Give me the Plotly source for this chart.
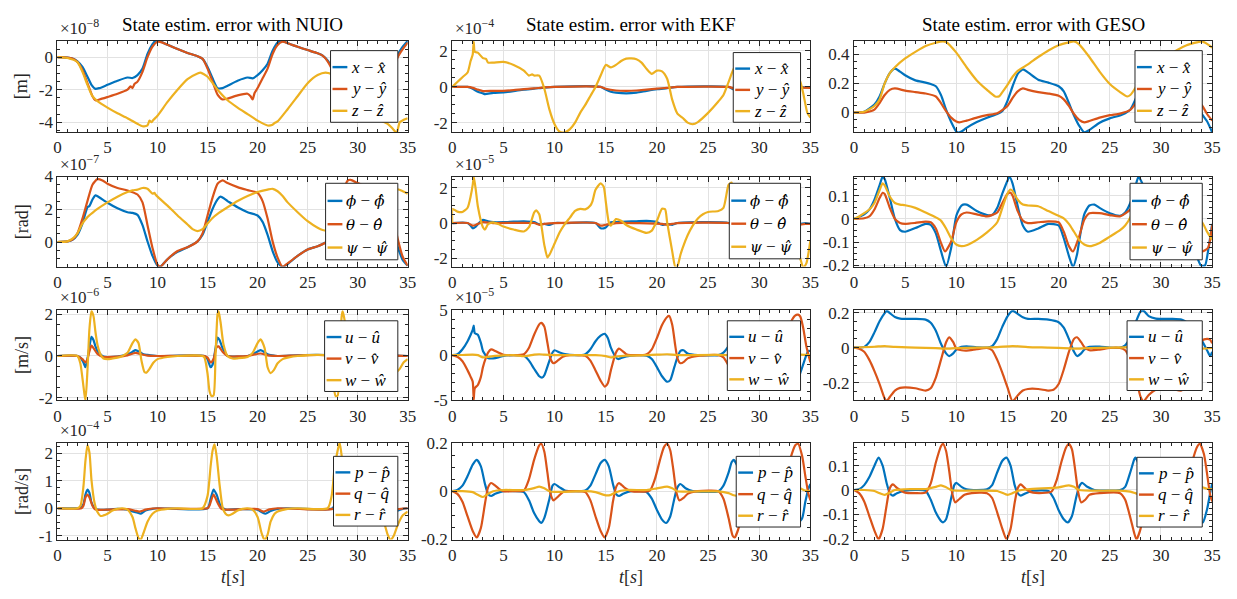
import plotly.graph_objects as go

# ---------------------------------------------------------------------------
# DATA  (t [s], value) pairs, values in the units shown on each panel's axis
# (NUIO / EKF panels carry a x10^n multiplier shown above the axis)
# ---------------------------------------------------------------------------
# ---- position error ----
nuio_x = [(0,0),(1,-0.02),(1.5,-0.08),(2,-0.25),(2.5,-0.6),(3,-1.2),(3.4,-1.7),(3.8,-1.95),(4.2,-1.9),(5,-1.7),(6,-1.45),(7,-1.25),(7.5,-1.28),(8,-1.1),(8.5,-0.7),(9,0.2),(9.5,0.8),(9.8,1.02),(10.2,1.0),(11,0.76),(12,0.5),(13,0.26),(14,0.06),(14.5,-0.1),(15,-0.6),(15.5,-1.3),(16,-1.9),(16.5,-1.9),(17,-1.76),(18,-1.45),(19,-1.25),(19.5,-1.3),(20,-1.1),(20.5,-0.8),(21,-0.4),(21.5,0.4),(22,0.9),(22.3,1.02),(22.7,0.95),(23,0.86),(24,0.64),(25,0.44),(26,0.24),(26.5,0.1),(27,-0.2),(27.5,-0.7),(28,-1.3),(28.5,-1.85),(29,-1.9),(30,-1.65),(31,-1.4),(32,-1.25),(32.5,-1.2),(33,-1.0),(33.5,-0.5),(34,0.15),(34.5,0.65),(35,1.0)]
nuio_y = [(0,0),(1,-0.02),(1.5,-0.08),(2,-0.3),(2.5,-0.8),(3,-1.6),(3.5,-2.4),(3.8,-2.65),(4.2,-2.6),(5,-2.45),(6,-2.25),(7,-2.0),(7.3,-1.8),(7.5,-1.9),(7.7,-1.65),(8,-1.5),(8.5,-0.9),(9,0.0),(9.5,0.65),(10,0.95),(10.5,0.9),(11,0.76),(12,0.5),(13,0.26),(14,0.06),(14.5,-0.1),(15,-0.7),(15.5,-1.5),(16,-2.3),(16.5,-2.6),(17,-2.55),(18,-2.35),(19,-2.25),(19.3,-2.4),(19.5,-2.6),(19.7,-2.2),(20,-1.9),(20.5,-1.3),(21,-0.7),(21.5,0.2),(22,0.75),(22.5,0.95),(23,0.86),(24,0.64),(25,0.44),(26,0.24),(26.5,0.1),(27,-0.25),(28,-1.5),(28.5,-2.3),(29,-2.6),(30,-2.45),(31,-2.3),(32,-2.2),(33,-1.6),(33.5,-0.9),(34,0.0),(34.5,0.5),(35,0.9)]
nuio_z = [(0,0),(1,-0.05),(2,-0.3),(2.5,-0.9),(3,-1.7),(3.5,-2.4),(4,-2.7),(5,-3.1),(6,-3.45),(7,-3.75),(8,-4.1),(8.5,-4.25),(9,-4.2),(9.2,-3.9),(9.4,-4.0),(9.6,-3.85),(10,-3.6),(11,-2.75),(12,-2.0),(13,-1.35),(14,-1.0),(14.3,-0.95),(15,-1.2),(16,-2.0),(17,-2.65),(18,-3.1),(19,-3.5),(20,-3.9),(21,-4.2),(21.5,-4.15),(21.7,-4.05),(22,-3.95),(23,-3.2),(24,-2.4),(25,-1.6),(26,-1.1),(26.8,-0.95),(27.5,-1.1),(28.5,-2.0),(29.5,-2.7),(30.5,-3.2),(31.5,-3.6),(32.5,-3.95),(33,-4.1),(33.5,-4.4),(33.9,-4.65),(34.2,-4.0),(34.6,-3.85),(35,-3.75)]

ekf_x = [(0,0),(1.5,0),(2,-0.1),(2.5,-0.27),(3,-0.36),(3.2,-0.4),(4,-0.33),(5,-0.3),(6,-0.23),(7,-0.15),(8,-0.1),(9,-0.04),(10,0),(14.5,0),(15,-0.15),(15.5,-0.27),(16,-0.32),(17,-0.36),(18,-0.32),(19,-0.22),(20,-0.13),(21,-0.07),(22,0),(27,0),(27.5,-0.15),(28,-0.27),(29,-0.34),(30,-0.33),(31,-0.25),(32,-0.15),(33,-0.08),(34,-0.03),(35,-0.02)]
ekf_y = [(0,0),(1.5,0),(2,-0.05),(2.5,-0.15),(3,-0.23),(4,-0.22),(5,-0.22),(6,-0.18),(7,-0.12),(8,-0.08),(9,-0.03),(10,0),(14.5,0),(15,-0.1),(16,-0.2),(17,-0.22),(18,-0.2),(19,-0.15),(20,-0.1),(21,-0.05),(22,0),(27,0),(27.5,-0.08),(28.5,-0.2),(30,-0.2),(31,-0.15),(32,-0.1),(33,-0.06),(34,-0.04),(35,-0.05)]
ekf_z = [(0,0),(0.5,0.27),(1,0.54),(1.5,0.8),(1.8,1.45),(2,1.8),(2.1,2.5),(2.2,1.95),(2.5,1.9),(3,1.6),(3.3,1.55),(3.5,1.35),(4,1.35),(5,1.39),(6,1.22),(7,0.9),(7.5,0.63),(7.8,0.7),(8,0.63),(8.5,0.63),(9,-0.1),(9.5,-1.26),(10,-2.07),(10.5,-2.49),(11,-2.52),(11.5,-2.34),(12,-1.98),(12.5,-1.44),(13,-1.0),(13.5,-0.5),(14,0),(14.5,0.63),(15,1.22),(15.5,1.08),(16,1.22),(16.5,1.44),(17,1.57),(17.5,1.58),(18,1.53),(18.5,1.35),(19,0.99),(19.5,0.72),(20,0.9),(20.5,0.86),(21,0.45),(21.5,-0.72),(22,-1.48),(22.5,-1.71),(23,-1.98),(23.5,-2.07),(24,-1.95),(25,-1.44),(26,-0.81),(26.5,-0.45),(27,0.27),(27.5,1.0),(28,1.3),(29,1.5),(30,1.5),(31,1.3),(32,1.0),(33,0.8),(33.5,0.7),(34,0.3),(34.3,-0.36),(34.7,-1.44),(35,-1.7)]

geso_x = [(0,0),(1,0.005),(2,0.055),(2.5,0.11),(3,0.2),(3.5,0.27),(4,0.3),(4.5,0.28),(5,0.255),(6,0.22),(7,0.205),(7.5,0.195),(8,0.18),(8.5,0.12),(9,0.02),(9.5,-0.065),(10,-0.13),(10.2,-0.138),(10.5,-0.13),(11,-0.105),(12,-0.065),(13,-0.035),(14,-0.01),(14.5,0.01),(15,0.08),(15.5,0.18),(16,0.265),(16.5,0.295),(17,0.275),(18,0.225),(19,0.205),(20,0.18),(20.5,0.145),(21,0.065),(21.5,-0.02),(22,-0.09),(22.5,-0.135),(23,-0.12),(24,-0.07),(25,-0.04),(26,-0.02),(26.5,-0.005),(27,0.02),(27.5,0.09),(28,0.18),(28.5,0.26),(29,0.295),(29.5,0.28),(30.5,0.23),(31.5,0.205),(32.5,0.18),(33,0.15),(33.5,0.07),(34,-0.01),(34.5,-0.06),(35,-0.135)]
geso_y = [(0,0),(1,0),(2,0.02),(2.5,0.065),(3,0.12),(3.5,0.155),(4,0.165),(5,0.15),(6,0.14),(7,0.13),(8,0.11),(8.5,0.065),(9,0.01),(9.5,-0.035),(10,-0.062),(10.3,-0.067),(11,-0.055),(12,-0.035),(13,-0.018),(14,-0.005),(15,0.045),(15.5,0.1),(16,0.145),(16.5,0.165),(17,0.155),(18,0.14),(19,0.13),(20,0.115),(20.5,0.09),(21,0.045),(21.5,-0.01),(22,-0.05),(22.5,-0.067),(23,-0.058),(24,-0.035),(25,-0.018),(26,-0.007),(27,0.018),(27.5,0.06),(28,0.11),(28.5,0.15),(29,0.165),(30,0.15),(31,0.14),(32,0.13),(33,0.11),(33.5,0.08),(34,0.05),(34.5,-0.01),(35,-0.055)]
geso_z = [(0,0),(1,0.005),(2,0.045),(2.5,0.09),(3,0.2),(3.5,0.27),(4,0.31),(5,0.37),(6,0.415),(7,0.455),(8,0.478),(8.7,0.487),(9,0.483),(10,0.41),(11,0.31),(12,0.22),(13,0.155),(13.8,0.11),(14.2,0.112),(14.5,0.14),(15,0.19),(15.5,0.245),(16,0.285),(17,0.33),(18,0.38),(19,0.425),(20,0.46),(21,0.48),(21.5,0.487),(22,0.467),(23,0.38),(24,0.28),(25,0.195),(26,0.14),(26.7,0.11),(27,0.12),(27.5,0.17),(28,0.24),(28.5,0.285),(29.5,0.33),(30.5,0.38),(31.5,0.425),(32.5,0.46),(33.5,0.48),(34,0.487),(34.5,0.47),(35,0.445)]

# ---- attitude error ----
nuio_phi = [(0,0),(1,0.04),(1.5,0.14),(2,0.44),(2.5,1.13),(3,2.12),(3.2,2.2),(3.5,2.6),(3.8,2.85),(4,2.8),(5,2.4),(6,2.06),(7,1.82),(7.5,1.78),(8,1.66),(8.5,1.03),(9,0.04),(9.5,-0.85),(10,-1.45),(10.2,-1.52),(10.5,-1.39),(11,-1.05),(12,-0.6),(13,-0.32),(14,0.04),(14.5,0.44),(15,1.23),(15.5,2.02),(16,2.6),(16.3,2.77),(17,2.5),(18,2.12),(19,1.82),(20,1.62),(20.5,1.23),(21,0.44),(21.5,-0.55),(22,-1.25),(22.5,-1.52),(23,-1.35),(24,-0.85),(25,-0.46),(26,-0.26),(26.5,-0.12),(27,0.04),(27.5,0.5),(28,1.3),(28.5,2.1),(29,2.7),(29.3,2.8),(30,2.5),(31,2.12),(32,1.82),(33,1.5),(33.5,0.7),(34,-0.3),(34.5,-1.1),(35,-1.45)]
nuio_theta = [(0,0),(1,0.04),(1.5,0.14),(2,0.53),(2.5,1.43),(3,2.5),(3.5,3.5),(4,3.84),(4.5,3.76),(5,3.56),(6,3.3),(7,3.15),(8,2.9),(8.5,2.42),(9,1.03),(9.5,-0.36),(10,-1.39),(10.3,-1.52),(10.5,-1.39),(11,-1.05),(12,-0.55),(13,-0.32),(14,0.04),(14.5,0.53),(15,1.62),(15.5,2.71),(16,3.56),(16.5,3.76),(17,3.6),(18,3.35),(19,3.17),(20,3.0),(20.5,2.5),(21,1.43),(21.5,0.04),(22,-0.95),(22.5,-1.52),(23,-1.3),(24,-0.85),(25,-0.46),(26,-0.26),(27,0.04),(27.5,0.6),(28,1.8),(28.5,3.0),(29,3.75),(29.3,3.8),(30,3.6),(31,3.35),(32,3.15),(33,2.6),(33.5,1.6),(34,0.2),(34.5,-0.9),(35,-1.45)]
nuio_psi = [(0,0),(1,0.04),(1.5,0.2),(2,0.53),(2.5,1.13),(3,1.52),(3.5,1.78),(4,2.02),(5,2.42),(6,2.77),(7,3.05),(7.5,3.15),(8,3.2),(8.5,3.3),(9,3.25),(9.5,2.95),(9.7,3.0),(9.8,2.9),(10,2.77),(11,2.22),(12,1.62),(13,1.07),(13.5,0.79),(14,0.67),(14.5,0.79),(15,1.13),(15.5,1.47),(16,1.72),(17,2.12),(18,2.5),(19,2.81),(20,3.05),(21,3.2),(21.5,3.25),(22,3.1),(22.5,2.81),(23,2.42),(24,1.82),(25,1.27),(26,0.87),(26.5,0.73),(27,0.7),(27.5,0.85),(28,1.2),(28.5,1.5),(29.5,2.0),(30.5,2.45),(31.5,2.8),(32.5,3.05),(33.5,3.2),(34,3.22),(34.5,3.1),(35,2.95)]

ekf_phi = [(0,0),(1.5,0),(1.8,-0.15),(2,-0.3),(2.3,-0.2),(2.7,0.05),(3,0.18),(3.5,0.1),(4,0.05),(5,0.05),(6,0.08),(7,0.1),(8,0.05),(8.5,-0.07),(9,-0.05),(9.5,-0.1),(10,0),(11,0),(14,0),(14.5,-0.3),(15,-0.25),(15.5,0.05),(16,0.05),(17,0.08),(18,0.1),(19,0.12),(20,0.05),(20.5,-0.1),(21,-0.05),(21.5,-0.1),(22,0),(27,0),(27.5,-0.2),(28,-0.1),(29,0.05),(30,0.08),(31,0.1),(32,0.05),(33,-0.1),(34,-0.05),(34.5,0),(35,-0.05)]
ekf_theta = [(0,0),(1.5,0),(2,-0.15),(2.5,-0.05),(3,0.05),(4,0),(8,0),(8.5,-0.1),(9,-0.05),(10,0),(14,0),(14.5,-0.15),(15,-0.1),(16,0),(20.5,-0.05),(21,-0.1),(21.5,-0.05),(22,0),(27,0),(27.5,-0.1),(28,-0.05),(29,0),(33,-0.05),(34,-0.1),(34.5,-0.05),(35,-0.05)]
ekf_psi = [(0,0),(0.05,0.8),(0.5,0.65),(1,0.63),(1.5,0.87),(1.8,1.52),(2,2.17),(2.1,2.65),(2.3,1.89),(2.5,0.96),(3,-0.24),(3.2,-0.37),(3.5,-0.06),(4,0.04),(4.5,-0.06),(5,-0.2),(6,-0.37),(7,-0.48),(7.5,-0.24),(8,0.59),(8.2,0.72),(8.5,0.5),(9,-1.26),(9.3,-1.96),(9.5,-1.81),(10,-1.17),(10.5,-0.52),(11,-0.06),(11.5,0.31),(12,0.69),(12.5,0.81),(13,0.78),(13.5,1.0),(13.7,1.24),(14,1.89),(14.5,2.26),(14.8,2.07),(15,1.24),(15.3,0.04),(15.5,-0.15),(16,0.22),(16.5,0.13),(17,-0.11),(18,-0.37),(19,-0.56),(19.5,-0.43),(20,0.13),(20.5,0.81),(20.8,0.78),(21,0.04),(21.5,-1.63),(21.8,-2.5),(22,-2.46),(22.3,-1.81),(22.5,-1.44),(23,-0.7),(23.5,-0.15),(24,0.26),(24.5,0.5),(25,0.63),(26,0.69),(26.5,0.87),(27,2.17),(27.3,2.3),(27.6,1.5),(28,0.2),(29,-0.3),(30,-0.4),(31,-0.5),(32,0.2),(32.5,0.7),(33,0.5),(33.5,-1.0),(34,-2.0),(34.3,-2.55),(34.6,-2.3),(35,-0.98)]

geso_phi = [(0,0),(1,0.02),(1.5,0.04),(2,0.083),(2.5,0.145),(2.8,0.182),(3,0.172),(3.5,0.09),(4,0),(4.5,-0.048),(5,-0.055),(6,-0.039),(7,-0.021),(7.5,-0.025),(8,-0.062),(8.5,-0.138),(9,-0.206),(9.5,-0.124),(10,0.014),(10.5,0.058),(11,0.062),(12,0.034),(13,0.017),(13.5,0.017),(14,0.048),(14.5,0.11),(15,0.165),(15.2,0.182),(15.5,0.152),(16,0.055),(16.5,-0.028),(17,-0.055),(18,-0.041),(19,-0.021),(20,-0.028),(20.5,-0.083),(21,-0.159),(21.4,-0.206),(21.8,-0.152),(22,-0.097),(22.5,0.02),(23,0.058),(23.5,0.062),(24,0.048),(25,0.025),(26,0.014),(26.5,0.028),(27,0.069),(27.5,0.14),(27.8,0.182),(28.2,0.15),(28.6,0.06),(29,-0.02),(29.5,-0.055),(30.5,-0.04),(31.5,-0.021),(32.5,-0.03),(33,-0.08),(33.5,-0.16),(33.9,-0.2),(34.3,-0.2),(34.6,-0.138),(35,-0.021)]
geso_theta = [(0,0),(1,0.003),(1.5,0.011),(2,0.041),(2.5,0.09),(2.8,0.113),(3,0.108),(3.5,0.048),(4,0),(4.5,-0.017),(5,-0.021),(6,-0.017),(7,-0.011),(7.5,-0.014),(8,-0.041),(8.5,-0.103),(8.9,-0.14),(9.5,-0.097),(10,-0.014),(10.5,0.02),(11,0.028),(12,0.02),(13,0.011),(14,0.028),(14.5,0.069),(15,0.108),(15.3,0.113),(15.5,0.1),(16,0.034),(16.5,-0.007),(17,-0.018),(18,-0.014),(19,-0.01),(20,-0.014),(20.5,-0.055),(21,-0.117),(21.4,-0.14),(22,-0.076),(22.5,-0.003),(23,0.025),(24,0.025),(25,0.017),(26,0.011),(27,0.041),(27.5,0.09),(27.8,0.113),(28.2,0.09),(28.6,0.03),(29,-0.01),(30,-0.018),(31,-0.012),(32,-0.012),(33,-0.05),(33.5,-0.11),(34,-0.14),(34.6,-0.124),(35,-0.028)]
geso_psi = [(0,0),(0.5,0.011),(1,0.025),(1.5,0.041),(2,0.069),(2.5,0.124),(2.8,0.154),(3,0.145),(3.5,0.097),(4,0.069),(4.5,0.062),(5,0.059),(6,0.048),(7,0.028),(8,0.007),(8.5,-0.007),(9,-0.041),(9.5,-0.083),(10,-0.11),(10.5,-0.117),(11,-0.113),(12,-0.09),(13,-0.058),(14,-0.014),(14.5,0.048),(15,0.11),(15.3,0.127),(15.5,0.121),(16,0.083),(16.5,0.062),(17,0.058),(18,0.055),(19,0.034),(20,0.014),(20.5,0.003),(21,-0.021),(21.5,-0.055),(22,-0.09),(22.5,-0.11),(23,-0.117),(24,-0.103),(25,-0.076),(26,-0.048),(26.5,-0.028),(27,0.007),(27.5,0.07),(28,0.12),(28.5,0.09),(29,0.065),(30,0.056),(31,0.04),(32,0.02),(33,0.0),(34,-0.014),(34.5,-0.055),(35,-0.09)]

# ---- linear velocity error ----
nuio_u = [(0,0),(2,0),(2.3,-0.08),(2.6,-0.31),(2.8,-0.54),(3.0,-0.15),(3.2,0.46),(3.4,0.92),(3.6,0.77),(3.8,0.46),(4.0,0.23),(4.3,0.08),(4.6,-0.03),(5,-0.05),(6,-0.03),(7,0.08),(7.5,0.2),(7.8,0.28),(8.2,0.2),(8.6,0.08),(9,0.05),(10,0),(14.7,0),(15,-0.15),(15.3,-0.54),(15.5,-0.42),(15.8,0.38),(16.0,0.88),(16.2,0.77),(16.5,0.38),(17,0),(17.5,-0.03),(19,0),(19.5,0.08),(20.3,0.28),(21,0.08),(21.5,0.03),(22,0),(27.3,0),(27.6,-0.5),(28.0,0.3),(28.5,0.9),(29,0.4),(29.5,0),(32,0.1),(32.8,0.28),(33.5,0.08),(34,0.02),(35,0)]
nuio_v = [(0,0),(2,0),(2.5,-0.15),(2.8,-0.31),(3.0,-0.15),(3.2,0.23),(3.4,0.5),(3.6,0.38),(4.0,0.1),(4.6,-0.05),(5,-0.05),(6,-0.03),(7,0.03),(7.8,0.15),(8.4,0.08),(9,0.02),(10,0),(14.7,0),(15,-0.08),(15.3,-0.31),(15.6,-0.15),(15.9,0.42),(16.1,0.46),(16.5,0.2),(17,0),(19,0),(20.3,0.12),(21,0.03),(22,0),(27.3,0),(27.7,-0.3),(28.3,0.45),(28.8,0.2),(29.5,0),(32.8,0.12),(33.5,0.03),(35,0)]
nuio_w = [(0,0),(2,0),(2.3,-0.38),(2.6,-1.46),(2.8,-2.15),(3.0,-0.69),(3.2,1.31),(3.4,2.15),(3.6,1.92),(3.8,1.15),(4.0,0.54),(4.3,0.08),(4.6,-0.12),(5,-0.15),(5.5,-0.12),(6,-0.08),(6.5,0),(7,0.15),(7.5,0.62),(7.8,0.8),(8.1,0.62),(8.4,-0.23),(8.7,-0.77),(8.9,-0.8),(9.2,-0.62),(9.6,-0.31),(10,-0.15),(11,-0.05),(12,0),(14.5,0),(14.7,-0.08),(15,-0.85),(15.2,-1.69),(15.4,-1.92),(15.6,-1.89),(15.8,0.08),(16.0,2.0),(16.1,2.15),(16.3,1.62),(16.6,0.54),(17,0),(17.5,-0.12),(18,-0.11),(19,-0.05),(19.5,0.15),(20,0.62),(20.3,0.8),(20.7,0.38),(21,-0.54),(21.3,-0.82),(21.6,-0.69),(22,-0.35),(22.5,-0.15),(23,-0.08),(24,0),(27,0),(27.3,-0.4),(27.6,-1.5),(27.8,-1.92),(28.0,-1.9),(28.2,0.1),(28.4,1.9),(28.5,2.15),(28.7,1.7),(29,0.6),(29.5,0),(30,-0.12),(31,-0.08),(32,0.1),(32.5,0.6),(32.8,0.8),(33.2,0.4),(33.5,-0.5),(33.8,-0.8),(34.2,-0.62),(34.6,-0.3),(35,-0.15)]

ekf_u = [(0,0),(0.5,0.1),(1,0.65),(1.5,1.55),(1.8,2.27),(2,2.8),(2.1,3.27),(2.2,2.45),(2.5,2.27),(2.8,1.37),(3,0.47),(3.5,-0.32),(4,-0.36),(4.5,-0.25),(5,-0.07),(6,0),(7,-0.07),(7.5,-0.61),(8,-1.51),(8.5,-2.34),(8.8,-2.48),(9,-2.23),(9.5,-0.61),(9.8,0.29),(10,0.54),(10.5,0.29),(11,0.11),(12,0),(13,0.11),(13.5,0.65),(14,1.55),(14.5,2.16),(14.9,2.37),(15.2,1.91),(15.5,0.83),(16,-0.25),(16.2,-0.43),(16.5,-0.32),(17,-0.14),(18,0),(19,-0.07),(19.5,-0.43),(20,-1.33),(20.5,-2.34),(21,-2.95),(21.3,-2.77),(21.7,-1.33),(22,-0.25),(22.3,0.47),(22.6,0.54),(23,0.18),(24,0),(26,0),(26.5,0.29),(27,1.0),(27.5,2.0),(28,2.4),(28.5,1.5),(29,0),(29.5,-0.4),(30,-0.2),(31,0),(32,-0.5),(33,-2.3),(33.5,-3.0),(34,-2.0),(34.3,-1.0),(34.6,0.0),(34.8,0.47),(35,0.45)]
ekf_v = [(0,0),(0.5,-0.18),(1,-0.68),(1.5,-1.69),(1.8,-2.41),(2,-2.95),(2.1,-4.93),(2.2,-3.67),(2.5,-3.31),(2.8,-2.41),(3,-1.33),(3.3,-0.25),(3.5,0.29),(3.8,0.65),(4.2,0.47),(4.5,0.29),(5,0.04),(6,0),(7,0.11),(7.5,0.83),(8,2.27),(8.5,3.42),(8.7,3.6),(9,3.17),(9.3,1.37),(9.6,-0.43),(9.9,-0.9),(10.3,-0.61),(10.8,-0.18),(11.5,0),(13,-0.07),(13.5,-0.61),(14,-1.69),(14.5,-2.84),(14.9,-3.49),(15.2,-3.13),(15.5,-1.69),(16,0.29),(16.3,0.72),(16.7,0.4),(17,0.11),(18,0),(19,0.11),(19.5,0.65),(20,1.91),(20.5,3.35),(21,4.24),(21.2,4.35),(21.5,3.35),(21.8,1.0),(22,-0.32),(22.3,-0.9),(22.7,-0.68),(23,-0.36),(24,-0.07),(26,0),(26.5,-0.25),(27,-1.15),(27.5,-2.0),(27.8,-3.0),(28.1,-3.4),(28.4,-2.5),(28.8,-0.5),(29.2,0.6),(29.6,0.5),(30.5,0.05),(31.5,0.1),(32,0.7),(32.5,2.0),(33,3.5),(33.5,4.4),(33.8,4.5),(34,4.3),(34.3,3.0),(34.6,1.0),(35,-0.8)]
ekf_w = [(0,0),(1,0.02),(2,0.05),(2.5,0),(3,-0.25),(3.5,-0.18),(4,-0.1),(5,-0.03),(6,0),(7,-0.12),(7.5,-0.05),(8,0.05),(8.5,0.1),(9,0.05),(10,0),(14,0),(15,-0.1),(15.5,-0.25),(16,-0.15),(17,-0.05),(19,0),(20,0.05),(21,0.1),(22,0),(27,0),(28,-0.25),(29,-0.1),(33,0.1),(34,0.05),(35,0)]

geso_u = [(0,0),(1,0.004),(1.5,0.031),(2,0.087),(2.5,0.151),(3,0.197),(3.2,0.21),(3.5,0.197),(4,0.175),(4.5,0.166),(5,0.164),(6,0.164),(7,0.16),(7.5,0.142),(8,0.096),(8.5,0.022),(9,-0.033),(9.3,-0.048),(9.7,-0.033),(10,-0.011),(10.5,0.004),(11,0.007),(12,0.002),(13,0),(13.5,0.009),(14,0.05),(14.5,0.12),(15,0.179),(15.5,0.21),(16,0.193),(16.5,0.173),(17,0.164),(18,0.164),(19,0.16),(20,0.145),(20.5,0.114),(21,0.05),(21.5,-0.024),(21.8,-0.048),(22.2,-0.033),(22.5,-0.011),(23,0.004),(24,0.006),(25,0),(26,0),(26.5,0.013),(27,0.059),(27.5,0.14),(28,0.206),(28.3,0.21),(28.8,0.18),(29.5,0.166),(31,0.164),(32,0.16),(32.5,0.145),(33,0.12),(33.5,0.09),(34,0.04),(34.5,-0.015),(34.8,-0.048),(35,-0.024)]
geso_v = [(0,0),(0.5,-0.006),(1,-0.024),(1.5,-0.07),(2,-0.134),(2.5,-0.208),(3,-0.291),(3.2,-0.306),(3.5,-0.282),(4,-0.245),(4.5,-0.23),(5,-0.227),(6,-0.232),(7,-0.245),(7.5,-0.232),(8,-0.171),(8.5,-0.07),(9,0.031),(9.3,0.059),(9.7,0.031),(10,-0.006),(10.5,-0.015),(11,-0.017),(12,-0.009),(13,-0.002),(13.5,-0.015),(14,-0.07),(14.5,-0.144),(15,-0.227),(15.5,-0.306),(16,-0.273),(16.5,-0.245),(17,-0.236),(18,-0.236),(19,-0.245),(19.5,-0.241),(20,-0.208),(20.5,-0.125),(21,-0.024),(21.5,0.05),(21.8,0.059),(22.2,0.031),(22.5,0.004),(23,-0.015),(24,-0.011),(25,-0.002),(26,-0.002),(26.5,-0.015),(27,-0.07),(27.5,-0.16),(28,-0.28),(28.3,-0.306),(28.8,-0.27),(29.5,-0.24),(31,-0.236),(32,-0.245),(32.5,-0.22),(33,-0.14),(33.5,-0.03),(34,0.04),(34.5,0.05),(34.8,0.045),(35,0.025)]
geso_w = [(0,0),(2,0.005),(3,0.009),(4,0.004),(6,0),(8,-0.003),(9,-0.006),(10,-0.003),(12,0),(14,0.003),(15.5,0.009),(17,0.003),(19,0),(21,-0.004),(21.5,-0.006),(23,-0.002),(25,0),(27,0.003),(28,0.009),(29.5,0.003),(32,0),(33.5,-0.004),(34,-0.006),(35,-0.002)]

# ---- angular velocity error ----
nuio_p = [(0,0),(2.3,0.02),(2.6,0.15),(2.8,0.5),(3.0,0.68),(3.2,0.56),(3.4,0.21),(3.7,0),(4,-0.05),(5,-0.05),(6,-0.02),(7,-0.05),(7.5,-0.12),(8,-0.16),(8.3,-0.2),(8.8,-0.08),(9.5,-0.02),(10,0),(15,0),(15.3,0.33),(15.6,0.68),(15.9,0.5),(16.3,0.09),(16.8,-0.05),(18,-0.03),(20,-0.05),(20.4,-0.14),(20.8,-0.2),(21.3,-0.1),(22,-0.02),(23,0),(27.5,0),(27.9,0.35),(28.2,0.68),(28.5,0.5),(28.9,0.1),(29.4,-0.05),(32.5,-0.05),(33,-0.14),(33.4,-0.2),(33.9,-0.1),(34.5,-0.02),(35,0)]
nuio_q = [(0,0),(2.4,0),(2.6,0.09),(2.8,0.39),(3.0,0.5),(3.2,0.39),(3.5,0.09),(3.8,-0.05),(5,-0.05),(7,-0.03),(7.7,-0.08),(8.2,-0.12),(8.8,-0.05),(9.5,-0.01),(10,0),(15,0),(15.2,0.1),(15.6,0.5),(16.0,0.2),(16.4,-0.03),(17,-0.05),(20,-0.03),(20.6,-0.12),(21.2,-0.04),(22,0),(27.7,0),(28.2,0.5),(28.6,0.1),(29,-0.04),(33.3,-0.12),(34,-0.03),(35,0)]
nuio_r = [(0,0),(2,0),(2.3,0.09),(2.6,0.8),(2.8,1.73),(3.0,2.3),(3.2,2.02),(3.4,1.03),(3.7,0.21),(4,-0.14),(4.3,-0.28),(4.6,-0.26),(5,-0.2),(5.5,-0.08),(6,-0.02),(6.5,0),(7,-0.05),(7.5,-0.32),(7.8,-0.73),(8.1,-1.08),(8.3,-1.16),(8.6,-0.9),(9,-0.49),(9.5,-0.2),(10,-0.08),(11,-0.02),(12,0),(14.5,0),(15,0.45),(15.3,1.5),(15.5,2.09),(15.7,2.32),(15.9,1.91),(16.2,0.86),(16.5,0.04),(16.8,-0.2),(17.1,-0.26),(17.5,-0.2),(18,-0.08),(18.5,-0.02),(19,0),(19.5,-0.05),(20,-0.32),(20.4,-0.9),(20.7,-1.16),(21,-0.96),(21.3,-0.49),(21.7,-0.2),(22,-0.12),(23,-0.02),(24,0),(27,0),(27.4,0.45),(27.7,1.5),(28.0,2.1),(28.2,2.38),(28.4,1.9),(28.7,0.8),(29,0.0),(29.3,-0.22),(29.7,-0.26),(30.2,-0.15),(31,-0.02),(32,-0.05),(32.5,-0.35),(33,-0.96),(33.3,-1.16),(33.6,-1.0),(34,-0.61),(34.5,-0.26),(35,-0.12)]

ekf_p = [(0,0),(0.5,0.005),(1,0.023),(1.5,0.063),(2,0.11),(2.4,0.13),(2.8,0.103),(3.2,0.03),(3.5,-0.011),(3.8,-0.02),(4.2,-0.011),(5,0),(6,0),(7,-0.004),(7.5,-0.038),(8,-0.091),(8.5,-0.125),(8.7,-0.132),(9,-0.111),(9.5,-0.031),(9.8,0.023),(10,0.03),(10.5,0.016),(11,0.003),(12,0),(13,0.003),(13.5,0.023),(14,0.07),(14.5,0.117),(14.9,0.13),(15.3,0.103),(15.7,0.03),(16,-0.011),(16.3,-0.02),(16.7,-0.011),(17.5,0),(19,-0.004),(19.5,-0.031),(20,-0.078),(20.5,-0.118),(20.9,-0.132),(21.3,-0.105),(21.7,-0.031),(22,0.016),(22.3,0.03),(22.8,0.012),(23.5,0),(26,0),(26.5,0.023),(27,0.077),(27.3,0.12),(27.5,0.13),(27.9,0.1),(28.3,0.03),(28.6,-0.011),(28.9,-0.02),(29.3,-0.011),(30,0),(31.5,-0.004),(32,-0.031),(32.5,-0.078),(33,-0.11),(33.5,-0.125),(33.8,-0.132),(34.2,-0.111),(34.5,-0.044),(34.8,0.01),(35,0.03)]
ekf_q = [(0,0),(0.5,-0.011),(1,-0.044),(1.5,-0.105),(2,-0.165),(2.4,-0.192),(2.8,-0.152),(3.2,-0.051),(3.5,0.016),(3.8,0.034),(4.2,0.023),(4.6,0.009),(5,0),(6,0),(7,0.003),(7.5,0.05),(8,0.13),(8.5,0.19),(8.7,0.197),(9,0.164),(9.3,0.077),(9.6,-0.011),(9.9,-0.038),(10.3,-0.024),(10.8,-0.004),(11.5,0),(13,-0.004),(13.5,-0.038),(14,-0.105),(14.5,-0.165),(14.9,-0.192),(15.3,-0.152),(15.7,-0.044),(16,0.016),(16.3,0.034),(16.8,0.016),(17.5,0),(19.3,0.003),(19.8,0.05),(20.3,0.13),(20.7,0.184),(21,0.197),(21.3,0.17),(21.6,0.09),(21.9,-0.004),(22.2,-0.038),(22.6,-0.028),(23,-0.011),(24,0),(26,0),(26.5,-0.031),(27,-0.111),(27.4,-0.185),(27.6,-0.192),(28,-0.15),(28.4,-0.05),(28.8,0.02),(29.1,0.034),(29.6,0.016),(30.5,0),(32,0.003),(32.5,0.05),(33,0.13),(33.5,0.19),(33.8,0.197),(34.2,0.144),(34.5,0.063),(34.8,-0.011),(35,-0.038)]
ekf_r = [(0,0),(1,0),(2,-0.004),(2.5,-0.015),(3,-0.024),(3.5,-0.011),(4,0),(5,0.005),(7,0.005),(8,0.013),(8.5,0.019),(9,0.012),(9.5,0),(10,-0.003),(13,0),(14,-0.004),(15,-0.017),(15.5,-0.015),(16,-0.004),(17,0.005),(19,0.005),(20,0.012),(21,0.019),(21.5,0.012),(22,0),(24,-0.001),(26,-0.001),(27,-0.008),(27.5,-0.017),(28,-0.02),(28.5,-0.01),(29,0),(30,0.005),(32,0.006),(33,0.014),(33.5,0.019),(34,0.012),(34.5,0.003),(35,0)]

geso_p = [(0,0),(0.5,0.003),(1,0.02),(1.5,0.053),(2,0.1),(2.4,0.133),(2.8,0.1),(3.2,0.027),(3.5,-0.013),(3.8,-0.023),(4.2,-0.013),(5,-0.003),(6,0),(7,-0.003),(7.5,-0.04),(8,-0.093),(8.5,-0.127),(8.7,-0.133),(9,-0.12),(9.5,-0.033),(9.8,0.02),(10,0.029),(10.5,0.013),(11,0.003),(12,0),(13,0.003),(13.5,0.02),(14,0.073),(14.5,0.12),(14.9,0.133),(15.3,0.1),(15.7,0.02),(16,-0.013),(16.3,-0.023),(16.8,-0.013),(17.5,-0.003),(19,-0.004),(19.5,-0.033),(20,-0.083),(20.5,-0.12),(20.9,-0.133),(21.3,-0.107),(21.7,-0.033),(22,0.013),(22.3,0.029),(22.8,0.013),(23.5,0),(26,0),(26.5,0.013),(27,0.073),(27.4,0.127),(27.5,0.133),(27.9,0.1),(28.3,0.025),(28.6,-0.013),(28.9,-0.023),(29.4,-0.013),(30,-0.003),(31.5,-0.004),(32,-0.033),(32.5,-0.08),(33,-0.11),(33.4,-0.125),(33.8,-0.132),(34.1,-0.133),(34.5,-0.08),(34.8,-0.013),(35,0.027)]
geso_q = [(0,0),(0.5,-0.013),(1,-0.047),(1.5,-0.107),(2,-0.167),(2.4,-0.203),(2.8,-0.16),(3.2,-0.06),(3.5,0.007),(3.8,0.023),(4.2,0.009),(5,-0.011),(6,-0.013),(7,-0.011),(7.5,0.027),(8,0.113),(8.5,0.18),(8.7,0.19),(9,0.16),(9.3,0.08),(9.6,-0.013),(9.9,-0.051),(10.3,-0.037),(10.8,-0.02),(11.5,-0.013),(13,-0.013),(13.5,-0.033),(14,-0.093),(14.5,-0.16),(14.9,-0.203),(15.3,-0.16),(15.7,-0.053),(16,0.007),(16.3,0.023),(16.8,0.003),(17.5,-0.011),(19.3,-0.007),(19.8,0.04),(20.3,0.12),(20.7,0.173),(21,0.19),(21.3,0.167),(21.6,0.087),(21.9,-0.007),(22.2,-0.051),(22.6,-0.04),(23,-0.02),(24,-0.013),(26,-0.013),(26.5,-0.04),(27,-0.113),(27.4,-0.18),(27.6,-0.203),(28,-0.16),(28.4,-0.05),(28.8,0.01),(29.1,0.023),(29.6,0.003),(30.5,-0.011),(32,-0.008),(32.5,0.03),(33,0.11),(33.5,0.175),(33.8,0.19),(34.2,0.147),(34.5,0.067),(34.8,-0.02),(35,-0.047)]
geso_r = [(0,0),(1,0),(2,-0.004),(2.5,-0.013),(3,-0.02),(3.5,-0.011),(4,0),(5,0.003),(7,0.004),(8,0.013),(8.5,0.019),(9,0.011),(9.5,0),(10,-0.003),(14,-0.004),(15,-0.02),(15.5,-0.013),(16,-0.004),(17,0.003),(20,0.011),(21,0.019),(21.5,0.013),(22,0),(24,-0.003),(26,-0.003),(27,-0.007),(27.5,-0.013),(28,-0.02),(28.5,-0.011),(29,0),(30,0.003),(32,0.006),(33,0.013),(33.5,0.019),(34,0.012),(34.5,0.005),(35,0.003)]

# ---- labels / ticks ----
column_titles = ["State estim. error with NUIO", "State estim. error with EKF", "State estim. error with GESO"]
row_units = ["[m]", "[rad]", "[m/s]", "[rad/s]"]
x_label = "<i>t</i>[<i>s</i>]"
x_ticks = [0, 5, 10, 15, 20, 25, 30, 35]
GK = '<span style="font-family:DejaVu Serif;font-size:15px">'
lbl_pos = ["<i>x</i> − <i>x\u0302</i>", "<i>y</i> − <i>\u0177</i>", "<i>z</i> − <i>\u1e91</i>"]
lbl_ang = [f"<i>{GK}\u03d5</span></i> − <i>{GK}\u03d5\u0302</span></i>",
           f"<i>{GK}θ</span></i> − <i>{GK}θ\u0302</span></i>",
           f"<i>{GK}ψ</span></i> − <i>{GK}ψ\u0302</span></i>"]
lbl_lin = ["<i>u</i> − <i>\u00fb</i>", "<i>v</i> − <i>v\u0302</i>", "<i>w</i> − <i>\u0175</i>"]
lbl_rat = ["<i>p</i> − <i>p\u0302</i>", "<i>q</i> − <i>q\u0302</i>", "<i>r</i> − <i>r\u0302</i>"]

# y ranges, tick values, tick labels and multiplier exponents per panel (row-major)
y_ranges = [[-4.6, 1.0], [-2.5, 2.55], [-0.133, 0.49],
            [-1.5, 4.0], [-2.48, 2.65], [-0.205, 0.183],
            [-2.12, 2.2], [-5, 5], [-0.30, 0.214],
            [-1.14, 2.38], [-0.201, 0.201], [-0.204, 0.194]]
y_tickvals = [[-4, -2, 0], [-2, 0, 2], [0, 0.2, 0.4],
              [0, 2, 4], [-2, 0, 2], [-0.2, -0.1, 0, 0.1],
              [-2, 0, 2], [-5, 0, 5], [-0.2, 0, 0.2],
              [-1, 0, 1, 2], [-0.2, 0, 0.2], [-0.2, -0.1, 0, 0.1]]
y_ticktext = [["-4", "-2", "0"], ["-2", "0", "2"], ["0", "0.2", "0.4"],
              ["0", "2", "4"], ["-2", "0", "2"], ["-0.2", "-0.1", "0", "0.1"],
              ["-2", "0", "2"], ["-5", "0", "5"], ["-0.2", "0", "0.2"],
              ["-1", "0", "1", "2"], ["-0.2", "0", "0.2"], ["-0.2", "-0.1", "0", "0.1"]]
y_minor = [0.5, 0.5, 0.05, 0.5, 0.5, 0.025, 0.5, 1, 0.05, 0.25, 0.05, 0.025]
exponents = [-8, -4, None, -7, -5, None, -6, -5, None, -4, None, None]

series = [[nuio_x, nuio_y, nuio_z], [ekf_x, ekf_y, ekf_z], [geso_x, geso_y, geso_z],
          [nuio_phi, nuio_theta, nuio_psi], [ekf_phi, ekf_theta, ekf_psi], [geso_phi, geso_theta, geso_psi],
          [nuio_u, nuio_v, nuio_w], [ekf_u, ekf_v, ekf_w], [geso_u, geso_v, geso_w],
          [nuio_p, nuio_q, nuio_r], [ekf_p, ekf_q, ekf_r], [geso_p, geso_q, geso_r]]
row_labels = [lbl_pos, lbl_ang, lbl_lin, lbl_rat]

# ---------------------------------------------------------------------------
# LAYOUT (pixel geometry of the figure)
# ---------------------------------------------------------------------------
W, H = 1237, 599
COLS = [(54, 408), (453, 815), (859, 1221)]
ROWS = [(33, 127), (173, 266), (311, 404), (448, 548)]
LEG = [(330, 398, 43, 117), (737, 805, 45, 117), (1143, 1211, 43, 117),
       (325, 398, 180, 259), (733, 805, 180, 258), (1138, 1211, 180, 259),
       (324, 398, 322, 395), (731, 805, 322, 394), (1135, 1211, 322, 394),
       (333, 398, 462, 534), (740, 805, 462, 535), (1145, 1211, 463, 535)]
COLORS = ["#0072BD", "#D95319", "#EDB120"]
FONT = "Liberation Serif, Times New Roman, serif"
AXC = "#262626"

def px(x):
    return x / W

def py(y):
    return 1 - y / H

fig = go.Figure()
layout = {}
shapes = []
annotations = []

for k in range(12):
    r, c = divmod(k, 3)
    n = k + 1
    xa = "x" if n == 1 else f"x{n}"
    ya = "y" if n == 1 else f"y{n}"
    for j, data in enumerate(series[k]):
        t = [p[0] for p in data]
        v = [p[1] for p in data]
        fig.add_trace(go.Scatter(x=t, y=v, mode="lines", xaxis=xa, yaxis=ya,
                                 line=dict(color=COLORS[j], width=2.2, shape="spline", smoothing=0.6),
                                 showlegend=False, hoverinfo="skip"))
    x0, x1 = COLS[c]
    y0, y1 = ROWS[r]
    common = dict(showline=True, linecolor=AXC, linewidth=1, mirror="allticks",
                  ticks="inside", ticklen=5, tickcolor=AXC, tickwidth=1,
                  showgrid=True, gridcolor="#e2e2e2", gridwidth=1, zeroline=False,
                  tickfont=dict(family=FONT, size=17, color=AXC))
    layout["xaxis" if n == 1 else f"xaxis{n}"] = dict(
        domain=[px(x0), px(x1)], anchor=ya, range=[0, 35],
        tickmode="array", tickvals=x_ticks, ticktext=[str(v) for v in x_ticks],
        minor=dict(tickmode="linear", tick0=0, dtick=1, ticks="inside", ticklen=3, tickcolor=AXC, showgrid=False),
        **common)
    layout["yaxis" if n == 1 else f"yaxis{n}"] = dict(
        domain=[py(y1), py(y0)], anchor=xa, range=y_ranges[k],
        tickmode="array", tickvals=y_tickvals[k], ticktext=y_ticktext[k],
        minor=dict(tickmode="linear", tick0=0, dtick=y_minor[k], ticks="inside", ticklen=3, tickcolor=AXC, showgrid=False),
        **common)

    # multiplier
    if exponents[k] is not None:
        annotations.append(dict(xref="paper", yref="paper", x=px(x0 + 1), y=py(y0 - 1),
                                xanchor="left", yanchor="bottom", showarrow=False,
                                text=f"×10<sup>−{abs(exponents[k])}</sup>",
                                font=dict(family=FONT, size=17, color=AXC)))
    # legend box (drawn manually, MATLAB style)
    lx0, lx1, ly0, ly1 = LEG[k]
    shapes.append(dict(type="rect", xref="paper", yref="paper", x0=px(lx0), x1=px(lx1),
                       y0=py(ly1), y1=py(ly0), fillcolor="white",
                       line=dict(color=AXC, width=1), layer="above"))
    for j, frac in enumerate([0.23, 0.535, 0.84]):
        ey = ly0 + (ly1 - ly0) * frac
        shapes.append(dict(type="line", xref="paper", yref="paper", x0=px(lx0 + 2), x1=px(lx0 + 17),
                           y0=py(ey), y1=py(ey), line=dict(color=COLORS[j], width=2.4), layer="above"))
        annotations.append(dict(xref="paper", yref="paper", x=px(lx0 + 19), y=py(ey),
                                xanchor="left", yanchor="middle", showarrow=False,
                                text=row_labels[r][j], font=dict(family=FONT, size=17, color="black")))

# column titles and x labels
for c in range(3):
    x0, x1 = COLS[c]
    annotations.append(dict(xref="paper", yref="paper", x=px((x0 + x1) / 2), y=py(16),
                            xanchor="center", yanchor="middle", showarrow=False,
                            text=column_titles[c], font=dict(family=FONT, size=19, color="black")))
    annotations.append(dict(xref="paper", yref="paper", x=px((x0 + x1) / 2), y=py(587),
                            xanchor="center", yanchor="middle", showarrow=False,
                            text=x_label, font=dict(family=FONT, size=18, color=AXC)))
# row unit labels
for r in range(4):
    y0, y1 = ROWS[r]
    annotations.append(dict(xref="paper", yref="paper", x=px(18), y=py((y0 + y1) / 2),
                            xanchor="center", yanchor="middle", showarrow=False, textangle=-90,
                            text=row_units[r], font=dict(family=FONT, size=18, color=AXC)))

fig.update_layout(width=W, height=H, margin=dict(l=0, r=0, t=0, b=0),
                  paper_bgcolor="white", plot_bgcolor="white",
                  font=dict(family=FONT, size=17, color=AXC),
                  shapes=shapes, annotations=annotations, showlegend=False, **layout)
fig.write_html("out.html")
